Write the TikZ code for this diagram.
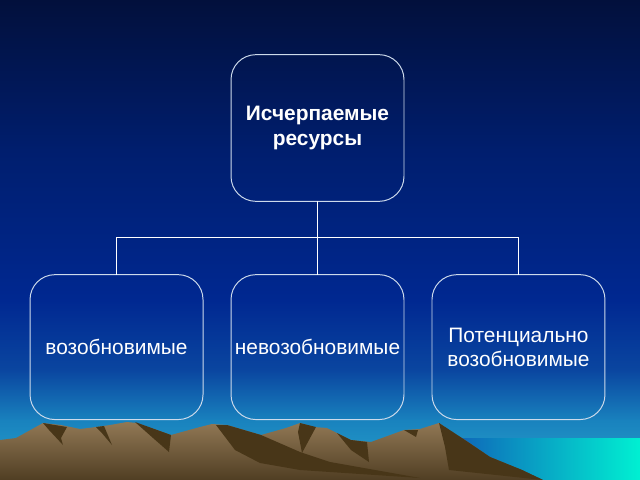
\documentclass[tikz,border=0pt]{standalone}
\usepackage{fontspec}
\setmainfont{Liberation Sans}
\usetikzlibrary{positioning}
\definecolor{sky0}{RGB}{2,16,60}
\definecolor{sky1}{RGB}{0,30,110}
\definecolor{sky2}{RGB}{0,40,145}
\definecolor{sky3}{RGB}{10,70,160}
\definecolor{sky4}{RGB}{25,130,190}
\definecolor{sky5}{RGB}{40,165,205}
\definecolor{boxline}{RGB}{205,218,235}
\definecolor{rock}{RGB}{145,120,85}
\definecolor{rockdark}{RGB}{80,62,35}
\definecolor{rockshade}{RGB}{72,54,24}
\definecolor{seablue}{RGB}{15,100,185}
\definecolor{seacyan}{RGB}{0,240,210}
\begin{document}
\begin{tikzpicture}[x=1.125pt, y=-1.125pt, node distance=84pt and 31.5pt,
    main node/.style={draw=boxline, line width=1.1pt, rounded corners=28pt, text=white, align=center,
      minimum width=194.6pt, minimum height=163pt, inner sep=2pt, outer sep=0pt,
      font=\fontsize{23.5}{27}\selectfont}]
        \useasboundingbox (0,0) rectangle (640,480);
        % sky
        \shade[top color=sky0, bottom color=sky1] (0,0) rectangle (640,151);
        \shade[top color=sky1, bottom color=sky2] (0,150) rectangle (640,301);
        \shade[top color=sky2, bottom color=sky3] (0,300) rectangle (640,371);
        \shade[top color=sky3, bottom color=sky4] (0,370) rectangle (640,421);
        \shade[top color=sky4, bottom color=sky5] (0,420) rectangle (640,480);
        % sea
        \shade[left color=seablue, right color=seacyan] (455,438) rectangle (640,480);
        % mountains
        \shade[top color=rock, bottom color=rockdark] (0,440) -- (16,438) -- (43,423) -- (61,425) -- (80,429)
          -- (96,427) -- (110,425) -- (127,422) -- (137,423) -- (171,435) -- (200,427) -- (212,424)
          -- (227,425) -- (261,435) -- (286,428) -- (300,423) -- (314,427) -- (327,428) -- (351,440)
          -- (371,442) -- (404,430) -- (420,429) -- (439,423) -- (453,433) -- (465,440) -- (490,457)
          -- (522,470) -- (543,480) -- (0,480) -- cycle;
        \fill[rockshade] (43,423) -- (67,427) -- (61,438) -- (63,445) -- (49,430) -- cycle;
        \fill[rockshade] (96,427) -- (104,426) -- (112,445) -- (101,432) -- cycle;
        \fill[rockshade] (135,422) -- (171,435) -- (169,452) -- (153,438) -- cycle;
        \fill[rockshade] (216,425) -- (227,425) -- (261,435) -- (300,452) -- (330,462) -- (420,478)
          -- (300,470) -- (260,463) -- (235,450) -- cycle;
        \fill[rockshade] (300,423) -- (316,427) -- (302,453) -- (298,432) -- cycle;
        \fill[rockshade] (337,433) -- (351,440) -- (367,442) -- (369,462) -- (351,450) -- cycle;
        \fill[rockshade] (404,430) -- (418,430) -- (416,437) -- cycle;
        \fill[rockshade] (439,423) -- (465,440) -- (490,457) -- (522,470) -- (543,480) -- (449,470)
          -- (445,447) -- cycle;
        % tree
        \node[main node, minimum height=165pt, font=\fontsize{23.5}{28}\selectfont\bfseries] (1) at (317.5,128) {Исчерпаемые\\ресурсы};
        \node[main node] (3) [below=82.5pt of 1] {невозобновимые};
        \node[main node] (2) [left=of 3] {возобновимые};
        \node[main node] (4) [right=of 3] {Потенциально\\возобновимые};
        \coordinate[below=41pt of 1] (f);

        \draw[white, line width=1.6pt] (1) -- (3)
          (f) -| (2)
          (f) -| (4);

\end{tikzpicture}
\end{document}
